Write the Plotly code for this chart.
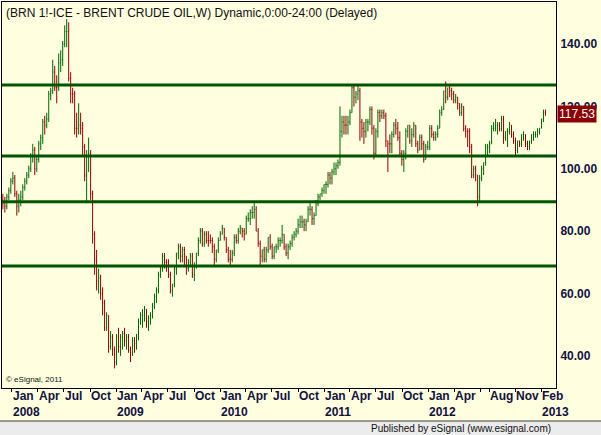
import pandas as pd
import plotly.graph_objects as go

close = [89,88,91,93,96,
 97,92,88,90, 91,94,96,98,100, 104,106,100,103, 108,110,115,114, 116,124,125,131,126, 126,134,135,140,
 144,144,129,124, 124,113,113,114,113, 107,98,104,105, 92,79,71,64,65, 60,57,49,53, 43,46,42,38,
 46,43,46,47,45, 46,42,41,45, 44,46,51,53, 53,55,51,52, 53,56,59,61,66, 68,72,70,70,
 66,61,63,68,73, 75,72,74,72, 68,70,72,66, 69,73,77,80,76, 79,77,77,77, 75,71,74,77,
 79,81,78,74,71, 71,73,78,77, 80,81,80,79, 84,84,86,86,87, 80,76,72,74, 71,74,78,75,
 72,75,75,77,77, 79,75,73,75, 76,78,79,80, 82,83,83,82,83, 87,87,84,85, 89,91,92,93,95,
 95,98,97,99, 100,101,102,112, 115,114,114,115, 118,126,123,124,125, 115,113,112,115, 115,119,113,105,
 112,118,117,118,117, 109,108,108,111, 114,113,110,105,103, 105,112,114,109, 111,114,108,106, 110,108,103,107,107,
 113,111,110,111, 113,118,119,125, 123,126,125,124,122, 123,121,118,120, 113,112,112,107, 98,100,98,91,97,
 100,102,107,107, 108,113,113,114,114, 113,116,110,112, 112,114,111,109, 106,109,108,111,111, 108,107,109,111,
 111,111,112,113, 116,118,117.53]
high = [92,91,92,94,97,
 99,98,93,92, 93,95,97,99,101, 105,108,107,104, 109,111,116,117, 118,125,126,135,133, 130,137,138,141,
 146,148,147,131, 126,125,118,121,118, 115,108,106,110, 106,93,80,74,68, 66,62,58,54, 53,48,47,43,
 47,49,47,48,49, 47,47,43,46, 46,47,52,54, 55,56,55,53, 54,57,60,62,67, 69,73,73,71,
 71,67,63,69,73, 76,76,75,75, 72,71,73,73, 70,73,78,81,81, 80,80,80,79, 78,76,74,78,
 80,82,81,78,75, 74,74,79,79, 81,82,81,81, 85,86,87,88,89, 88,81,77,74, 75,75,78,79,
 76,75,76,78,78, 82,79,76,76, 77,79,80,81, 84,85,85,84,84, 88,89,88,86, 90,92,92,94,95,
 96,99,99,100, 102,102,103,120, 117,117,117,117, 119,127,127,125,127, 126,116,115,116, 116,120,120,114,
 113,119,119,119,119, 118,109,111,112, 115,116,115,112,106, 106,113,114,114, 113,115,114,109, 111,111,109,108,109,
 114,114,112,112, 114,119,120,125, 128,126,127,126,125, 124,123,121,121, 120,114,113,113, 108,101,101,98,98,
 101,102,108,108, 109,114,115,116,115, 115,117,117,112, 113,115,114,112, 110,109,109,111,112, 111,109,109,111,
 112,112,113,113, 116,119,119]
low = [87,86,87,90,92,
 95,91,85,86, 88,90,93,95,97, 99,102,98,99, 102,106,108,111, 113,115,122,124,125, 121,125,131,133,
 139,139,128,121, 121,111,110,111,111, 104,96,89,99, 90,76,66,61,60, 58,53,48,48, 41,42,40,36,
 37,41,40,42,43, 42,41,38,40, 41,42,45,50, 49,51,49,48, 50,52,55,57,60, 65,67,68,67,
 65,60,59,62,66, 71,70,70,69, 66,67,69,65, 64,68,72,76,75, 75,76,75,76, 73,69,70,73,
 77,79,77,73,70, 69,70,72,76, 76,79,78,77, 79,83,82,84,84, 80,75,69,70, 70,70,73,74,
 71,71,73,74,75, 76,74,72,71, 74,75,77,78, 79,81,81,80,80, 83,85,82,82, 85,88,90,91,92,
 92,94,95,95, 98,98,100,101, 110,111,111,111, 114,118,120,121,122, 109,110,108,110, 112,114,111,103,
 104,110,115,116,116, 107,99,105,105, 110,111,109,104,101, 99,103,110,108, 107,110,107,105, 106,106,102,103,106,
 106,110,109,109, 110,113,117,119, 121,122,123,122,121, 121,119,117,117, 112,110,107,105, 97,97,96,88,89,
 96,98,101,104, 105,108,112,112,111, 112,112,108,109, 107,111,110,108, 104,105,107,107,109, 107,106,106,108,
 109,110,110,111, 113,115,117]
first_open = 90
levels = [126.9, 104.1, 89.4, 68.8]
last_price = 117.53

dates = pd.date_range("2007-11-30", "2013-02-15", freq="W-FRI")
opens = [first_open] + close[:-1]

tick_dates = ["2008-01-01","2008-04-01","2008-07-01","2008-10-01",
              "2009-01-01","2009-04-01","2009-07-01","2009-10-01",
              "2010-01-01","2010-04-01","2010-07-01","2010-10-01",
              "2011-01-01","2011-04-01","2011-07-01","2011-10-01",
              "2012-01-01","2012-04-01","2012-08-01","2012-11-01","2013-02-01"]
tick_month = ["Jan","Apr","Jul","Oct"]*4 + ["Jan","Apr","Aug","Nov","Feb"]
tick_year = {"2008-01-01":"2008","2009-01-01":"2009","2010-01-01":"2010",
             "2011-01-01":"2011","2012-01-01":"2012","2013-02-01":"2013"}
minor_ticks = ["2012-07-01"]
yticks = [40,60,80,100,120,140]

FONT = "Liberation Sans"
BOLD = dict(size=12, color="#101040", family=FONT, weight="bold")
fig = go.Figure(go.Ohlc(x=dates, open=opens, high=high, low=low, close=close,
    increasing=dict(line=dict(color="#006400", width=1)),
    decreasing=dict(line=dict(color="#8B0000", width=1)),
    tickwidth=0.3, hoverinfo="skip"))

for lv in levels:
    fig.add_shape(type="line", xref="paper", x0=0, x1=1, y0=lv, y1=lv,
                  line=dict(color="#005500", width=3))

ann = []
for d, m in zip(tick_dates, tick_month):
    ann.append(dict(x=d, y=-0.021, xref="x", yref="paper", text=m, showarrow=False,
                    xanchor="left", yanchor="middle", xshift=-1, font=BOLD))
    if d in tick_year:
        ann.append(dict(x=d, y=-0.062, xref="x", yref="paper", text=tick_year[d], showarrow=False,
                        xanchor="left", yanchor="middle", xshift=-1, font=BOLD))
ann.append(dict(x=0.003, y=0.995, xref="paper", yref="paper", text="(BRN 1!-ICE - BRENT CRUDE OIL,W) Dynamic,0:00-24:00 (Delayed)",
                showarrow=False, xanchor="left", yanchor="top", font=dict(size=12, color="#101010", family=FONT)))
ann.append(dict(x=0.003, y=0.005, xref="paper", yref="paper", text="© eSignal, 2011",
                showarrow=False, xanchor="left", yanchor="bottom", font=dict(size=8, color="#101010", family=FONT)))
ann.append(dict(x=1.002, y=last_price, xref="paper", yref="y", text=f"{last_price:.2f}",
                showarrow=False, xanchor="left", yanchor="middle", bgcolor="#8B0000", borderpad=1,
                font=dict(size=12, color="white", family=FONT)))
ann.append(dict(x=0.995, y=-0.104, xref="paper", yref="paper", text="Published by eSignal (www.esignal.com)",
                showarrow=False, xanchor="right", yanchor="middle", font=dict(size=10, color="#101010", family=FONT)))

fig.add_shape(type="rect", xref="paper", yref="paper", x0=-0.01, x1=1.1, y0=-0.0855, y1=-0.125,
              fillcolor="#ECECEC", line=dict(width=0), layer="below")
fig.add_shape(type="line", xref="paper", yref="paper", x0=-0.01, x1=1.1, y0=-0.0855, y1=-0.0855,
              line=dict(color="#404040", width=1))

fig.update_layout(
    width=601, height=435, margin=dict(l=2, r=45, t=2, b=47),
    paper_bgcolor="#FFFFE0", plot_bgcolor="#FFFFE0", showlegend=False,
    annotations=ann,
    xaxis=dict(type="date", range=["2007-11-27", "2013-03-24"], rangeslider=dict(visible=False),
               showgrid=False, zeroline=False, showline=True, linecolor="black", linewidth=1, mirror=True,
               tickvals=tick_dates + minor_ticks, ticktext=[""]*(len(tick_dates)+1), ticks="outside",
               ticklen=3, tickcolor="black"),
    yaxis=dict(range=[29.7, 153.5], side="right", showgrid=False, zeroline=False,
               showline=True, linecolor="black", linewidth=1, mirror=True,
               tickvals=yticks, ticktext=[f"{v:.2f}" for v in yticks], ticks="", automargin=False,
               ticklabelstandoff=1, tickfont=BOLD),
)
fig.write_html("out.html", config={"displayModeBar": False},
               post_script="document.body.style.margin='0';document.body.style.background='#FFFFE0';")
